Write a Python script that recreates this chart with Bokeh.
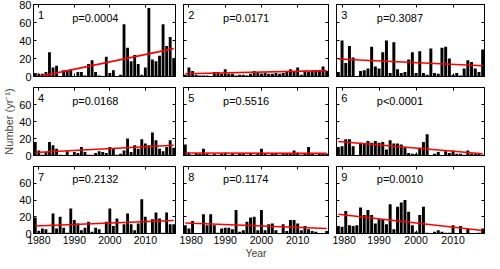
from bokeh.plotting import figure
from bokeh.layouts import gridplot
from bokeh.models import (Range1d, LinearAxis, FixedTicker, Label, ColumnDataSource,
                          CustomLabelingPolicy)
from bokeh.embed import file_html
from bokeh.resources import INLINE

years = list(range(1979, 2019))
x_ticks = [1980, 1990, 2000, 2010]
y_ticks_top_row = [0, 20, 40, 60, 80]
y_ticks_other_rows = [0, 20, 40, 60]

panel_names = ["1", "2", "3", "4", "5", "6", "7", "8", "9"]
p_texts = ["p=0.0004", "p=0.0171", "p=0.3087", "p=0.0168", "p=0.5516",
           "p<0.0001", "p=0.2132", "p=0.1174", "p=0.0010"]

counts_1 = [4, 3, 3, 5, 27, 10, 12, 0, 7, 7, 8, 0, 5, 5, 1, 14, 18, 5, 1, 0,
            22, 4, 7, 0, 2, 58, 32, 17, 24, 14, 2, 10, 76, 19, 17, 23, 58, 34, 44, 20]
counts_2 = [2, 10, 6, 2, 1, 1, 1, 0, 5, 5, 3, 8, 3, 3, 1, 2, 2, 1, 3, 6,
            5, 3, 4, 3, 3, 4, 3, 4, 6, 8, 5, 10, 2, 6, 5, 6, 6, 7, 11, 6]
counts_3 = [5, 40, 15, 34, 21, 0, 6, 7, 9, 33, 11, 9, 27, 40, 4, 38, 8, 4, 5, 19,
            27, 4, 28, 4, 2, 31, 4, 3, 32, 33, 20, 2, 4, 1, 9, 18, 16, 9, 5, 30]
counts_4 = [16, 6, 1, 4, 16, 12, 8, 1, 0, 5, 0, 4, 3, 10, 4, 1, 1, 3, 5, 4,
            3, 10, 8, 1, 2, 6, 20, 4, 12, 8, 19, 14, 12, 27, 18, 8, 5, 10, 18, 9]
counts_5 = [13, 2, 1, 3, 2, 8, 2, 1, 2, 1, 2, 2, 1, 2, 1, 2, 2, 1, 2, 1,
            2, 8, 2, 1, 2, 2, 1, 2, 3, 2, 6, 2, 1, 2, 10, 2, 1, 2, 2, 2]
counts_6 = [10, 11, 19, 19, 11, 0, 15, 14, 17, 15, 17, 15, 16, 7, 18, 14, 14, 13, 10, 3,
            2, 2, 9, 16, 25, 0, 2, 4, 0, 5, 3, 6, 2, 2, 1, 6, 2, 2, 2, 1]
counts_7 = [19, 3, 6, 5, 1, 24, 6, 20, 7, 1, 30, 16, 12, 4, 7, 14, 2, 7, 5, 0,
            14, 30, 9, 18, 0, 11, 24, 11, 4, 12, 41, 20, 0, 17, 25, 18, 1, 25, 11, 11]
counts_8 = [10, 6, 15, 0, 0, 23, 10, 23, 10, 1, 6, 7, 7, 5, 28, 2, 4, 14, 19, 20,
            4, 28, 4, 11, 12, 4, 0, 11, 3, 16, 16, 12, 4, 9, 5, 3, 2, 0, 0, 3]
counts_9 = [9, 8, 27, 10, 9, 10, 31, 22, 28, 22, 12, 17, 17, 11, 35, 5, 32, 37, 40, 26,
            10, 2, 22, 32, 1, 0, 2, 4, 2, 1, 1, 10, 0, 9, 0, 6, 0, 0, 1, 6]

all_counts = [counts_1, counts_2, counts_3, counts_4, counts_5,
              counts_6, counts_7, counts_8, counts_9]

trend_start = [-1, 3, 19.5, 3.5, 3, 16.5, 9, 12.5, 23]
trend_end = [31, 6.5, 12, 12, 2.5, 2, 15.5, 6, 3.5]

FONT = "Liberation Sans"
FRAME_W = 150
FRAME_H = 72
col_left = [28, 2, 2]
col_right = [1, 1, 4]
row_top = [4, 0, 0]
row_bottom = [7, 7, 27]


def style_axis(ax, ticks, show_labels, size="11px"):
    ax.ticker = FixedTicker(ticks=ticks)
    ax.major_tick_in = 3
    ax.major_tick_out = 0
    ax.minor_tick_line_color = None
    ax.axis_line_color = "black"
    ax.axis_line_width = 1
    ax.major_tick_line_color = "black"
    ax.major_label_text_font = FONT
    ax.major_label_text_color = "black"
    if show_labels:
        ax.major_label_text_font_size = size
        ax.major_label_standoff = 2
    else:
        ax.major_label_text_font_size = "1px"
        ax.major_label_standoff = 0
        ax.major_label_policy = CustomLabelingPolicy(code="return new Set()")


rows = []
for r in range(3):
    row = []
    for c in range(3):
        k = r * 3 + c
        w = col_left[c] + FRAME_W + col_right[c]
        h = row_top[r] + FRAME_H + row_bottom[r]
        p = figure(width=w, height=h, output_backend="svg", toolbar_location=None,
                   x_range=Range1d(1978.5, 2018.5), y_range=Range1d(0, 80),
                   min_border_left=col_left[c], min_border_right=col_right[c],
                   min_border_top=row_top[r], min_border_bottom=row_bottom[r])
        p.grid.visible = False
        p.outline_line_color = "black"
        p.outline_line_width = 1
        p.background_fill_color = "white"
        p.border_fill_color = "white"

        src = ColumnDataSource(dict(x=years, top=all_counts[k]))
        p.vbar(x="x", top="top", bottom=0, width=0.8, source=src,
               fill_color="black", line_color=None)
        p.line(x=[years[0], years[-1]], y=[trend_start[k], trend_end[k]],
               line_color="red", line_width=1.6)

        bottom_ax = p.below[0]
        left_ax = p.left[0]
        yt = y_ticks_top_row if r == 0 else y_ticks_other_rows
        style_axis(bottom_ax, x_ticks, r == 2, "10.5px")
        style_axis(left_ax, yt, c == 0, "11px")
        top_ax = LinearAxis()
        style_axis(top_ax, x_ticks, False)
        p.add_layout(top_ax, "above")
        right_ax = LinearAxis()
        style_axis(right_ax, yt, False)
        p.add_layout(right_ax, "right")

        if r == 1 and c == 0:
            left_ax.axis_label = "Number (yr\u207b\u00b9)"
            left_ax.axis_label_text_font = FONT
            left_ax.axis_label_text_font_size = "11px"
            left_ax.axis_label_text_font_style = "normal"
            left_ax.axis_label_standoff = 1
        if r == 2 and c == 1:
            bottom_ax.axis_label = "Year"
            bottom_ax.axis_label_text_font = FONT
            bottom_ax.axis_label_text_font_size = "10.5px"
            bottom_ax.axis_label_text_font_style = "normal"
            bottom_ax.axis_label_standoff = 0

        p.add_layout(Label(x=1979.8, y=68, text=panel_names[k], text_font=FONT,
                           text_font_size="11px", text_baseline="middle",
                           text_color="black"))
        p.add_layout(Label(x=1989.4, y=64.5, text=p_texts[k], text_font=FONT,
                           text_font_size="11px", text_baseline="middle",
                           text_color="black"))
        row.append(p)
    rows.append(row)

grid = gridplot(rows, toolbar_location=None)
open("out.html", "w").write(file_html(grid, INLINE))
